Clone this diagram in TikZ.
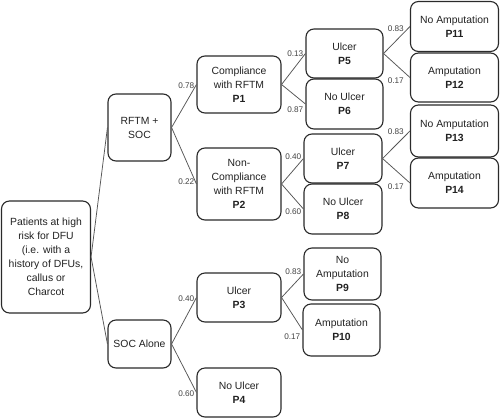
\documentclass[tikz,border=0pt]{standalone}
\usepackage{fontspec}
\setmainfont{Liberation Sans}
\definecolor{boxline}{HTML}{2A2A2A}
\definecolor{txt}{HTML}{222222}
\definecolor{conn}{HTML}{555555}
\definecolor{lbltxt}{HTML}{444444}
\begin{document}
\begin{tikzpicture}[x=1pt,y=-1pt,
  box/.style={draw=boxline, line width=1.1pt, rounded corners=8pt, align=center,
    inner sep=0pt, text=txt, font=\fontsize{10.4}{14}\selectfont},
  conline/.style={draw=conn, line width=0.75pt},
  lbl/.style={font=\fontsize{8.2}{9}\selectfont, text=lbltxt, inner sep=1.8pt, pos=1, anchor=east}
]
\useasboundingbox (0,0) rectangle (500,418);
\fill[white] (0,0) rectangle (500,418);
% nodes
\node[box, minimum width=89pt, minimum height=112pt] (root) at (46,257)
  {Patients at high\\risk for DFU\\(i.e. with a\\history of DFUs,\\callus or\\Charcot};
\node[box, minimum width=63pt, minimum height=67pt] (rftm) at (139.5,127.5) {RFTM +\\SOC};
\node[box, minimum width=63pt, minimum height=48pt] (soc) at (139.5,344) {SOC Alone};
\node[box, minimum width=84pt, minimum height=57pt] (p1) at (239,84.5) {Compliance\\with RFTM\\\textbf{P1}};
\node[box, minimum width=84pt, minimum height=72pt] (p2) at (239,184) {Non-\\Compliance\\with RFTM\\\textbf{P2}};
\node[box, minimum width=84pt, minimum height=49pt] (p3) at (239,297.5) {Ulcer\\\textbf{P3}};
\node[box, minimum width=84pt, minimum height=49pt] (p4) at (239,392.5) {No Ulcer\\\textbf{P4}};
\node[box, minimum width=77pt, minimum height=49pt] (p5) at (344.5,53.5) {Ulcer\\\textbf{P5}};
\node[box, minimum width=77pt, minimum height=50pt] (p6) at (344.5,104) {No Ulcer\\\textbf{P6}};
\node[box, minimum width=78pt, minimum height=49pt] (p7) at (343,158.5) {Ulcer\\\textbf{P7}};
\node[box, minimum width=78pt, minimum height=50pt] (p8) at (343,209) {No Ulcer\\\textbf{P8}};
\node[box, minimum width=77pt, minimum height=52pt] (p9) at (342.5,274) {No\\Amputation\\\textbf{P9}};
\node[box, minimum width=77pt, minimum height=52pt] (p10) at (341.5,330) {Amputation\\\textbf{P10}};
\node[box, minimum width=88pt, minimum height=50pt] (p11) at (454.5,26.5) {No Amputation\\\textbf{P11}};
\node[box, minimum width=88pt, minimum height=49pt] (p12) at (454.5,77.5) {Amputation\\\textbf{P12}};
\node[box, minimum width=88pt, minimum height=52pt] (p13) at (454.5,131) {No Amputation\\\textbf{P13}};
\node[box, minimum width=88pt, minimum height=50pt] (p14) at (454.5,183) {Amputation\\\textbf{P14}};
% connectors
\draw[conline] (root.east) -- (rftm.west);
\draw[conline] (root.east) -- (soc.west);
\draw[conline] (rftm.east) -- (p1.west) node[lbl, yshift=-1pt] {0.78};
\draw[conline] (rftm.east) -- (p2.west) node[lbl, yshift=2pt] {0.22};
\draw[conline] (soc.east) -- (p3.west) node[lbl, yshift=-1.5pt] {0.40};
\draw[conline] (soc.east) -- (p4.west) node[lbl, yshift=-1.5pt] {0.60};
\draw[conline] (p1.east) -- (p5.west) node[lbl] {0.13};
\draw[conline] (p1.east) -- (p6.west) node[lbl, yshift=-6pt] {0.87};
\draw[conline] (p2.east) -- (p7.west) node[lbl, yshift=2pt] {0.40};
\draw[conline] (p2.east) -- (p8.west) node[lbl, yshift=-3pt] {0.60};
\draw[conline] (p3.east) -- (p9.west) node[lbl, yshift=2pt] {0.83};
\draw[conline] (p3.east) -- (p10.west) node[lbl, yshift=-7pt] {0.17};
\draw[conline] (p5.east) -- (p11.west) node[lbl, xshift=-4pt, yshift=-2pt] {0.83};
\draw[conline] (p5.east) -- (p12.west) node[lbl, xshift=-4pt, yshift=-3.5pt] {0.17};
\draw[conline] (p7.east) -- (p13.west) node[lbl, xshift=-4pt, yshift=-1pt] {0.83};
\draw[conline] (p7.east) -- (p14.west) node[lbl, xshift=-4pt, yshift=-4pt] {0.17};
\end{tikzpicture}
\end{document}
